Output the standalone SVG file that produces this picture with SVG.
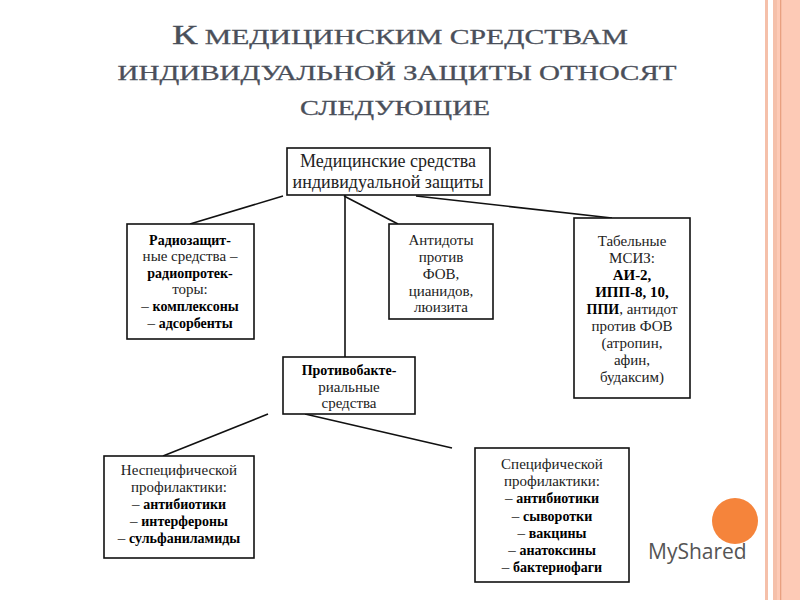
<svg xmlns="http://www.w3.org/2000/svg" width="800" height="600" viewBox="0 0 800 600">
<style>
.t{font-family:"Liberation Serif",serif;font-size:21px;fill:#4a4f5a;text-anchor:middle;stroke:#4a4f5a;stroke-width:0.3}
.n rect{fill:#fff;stroke:#111;stroke-width:1.6}
.n text{font-family:"Liberation Serif","Times New Roman",serif;font-size:15px;fill:#222;text-anchor:middle}
.n .b{font-weight:bold;fill:#000;font-size:14px}
#c line{stroke:#111;stroke-width:1.6}
</style>
<rect width="800" height="600" fill="#fff"/>
<rect x="765" y="0" width="3" height="600" fill="#f5c0aa"/>
<rect x="773" y="0" width="4" height="600" fill="#f5c0aa"/>
<rect x="777" y="0" width="23" height="600" fill="#fdcab6"/>
<rect x="780" y="0" width="1.3" height="600" fill="#e9a080"/>
<g id="title">
<text class="t" x="400" y="44" textLength="456" lengthAdjust="spacingAndGlyphs"><tspan font-size="27">К</tspan> МЕДИЦИНСКИМ СРЕДСТВАМ</text>
<text class="t" x="397" y="80" textLength="559" lengthAdjust="spacingAndGlyphs">ИНДИВИДУАЛЬНОЙ ЗАЩИТЫ ОТНОСЯТ</text>
<text class="t" x="395" y="115" textLength="190" lengthAdjust="spacingAndGlyphs">СЛЕДУЮЩИЕ</text>
</g>
<g id="c">
<line x1="283" y1="196" x2="190" y2="224"/>
<line x1="345" y1="195" x2="345" y2="357"/>
<line x1="344" y1="196" x2="398" y2="224"/>
<line x1="416" y1="196" x2="612" y2="218"/>
<line x1="268" y1="414" x2="163" y2="456"/>
<line x1="305" y1="414" x2="452" y2="448"/>
</g>
<g id="root" class="n"><rect x="287" y="148" width="203" height="47"/>
<text x="388" y="167" style="font-size:18px">Медицинские средства</text>
<text x="388" y="188" style="font-size:18px">индивидуальной защиты</text></g>
<g id="radio" class="n"><rect x="127" y="224" width="127" height="115"/>
<text x="190" y="245" class="b">Радиозащит-</text>
<text x="190" y="261">ные средства –</text>
<text x="190" y="278" class="b">радиопротек-</text>
<text x="190" y="294">торы:</text>
<text x="190" y="311"><tspan>– </tspan><tspan class="b">комплексоны</tspan></text>
<text x="190" y="328"><tspan>– </tspan><tspan class="b">адсорбенты</tspan></text></g>
<g id="antidot" class="n"><rect x="389" y="224" width="104" height="95"/>
<text x="441" y="245">Антидоты</text>
<text x="441" y="262">против</text>
<text x="441" y="279">ФОВ,</text>
<text x="441" y="296">цианидов,</text>
<text x="441" y="312">люизита</text></g>
<g id="tabel" class="n"><rect x="574" y="218" width="116" height="180"/>
<text x="632" y="246">Табельные</text>
<text x="632" y="263">МСИЗ:</text>
<text x="632" y="280" class="b" style="font-size:15px">АИ-2,</text>
<text x="632" y="297" class="b" style="font-size:15px">ИПП-8, 10,</text>
<text x="632" y="314"><tspan class="b">ППИ</tspan>, антидот</text>
<text x="632" y="331">против ФОВ</text>
<text x="632" y="348">(атропин,</text>
<text x="632" y="365">афин,</text>
<text x="632" y="382">будаксим)</text></g>
<g id="antibact" class="n"><rect x="283" y="357" width="132" height="57"/>
<text x="349" y="375" class="b">Противобакте-</text>
<text x="349" y="392">риальные</text>
<text x="349" y="408">средства</text></g>
<g id="nonspec" class="n"><rect x="104" y="456" width="150" height="102"/>
<text x="179" y="475">Неспецифической</text>
<text x="179" y="492">профилактики:</text>
<text x="179" y="509"><tspan>– </tspan><tspan class="b">антибиотики</tspan></text>
<text x="179" y="526"><tspan>– </tspan><tspan class="b">интерфероны</tspan></text>
<text x="179" y="543"><tspan>– </tspan><tspan class="b">сульфаниламиды</tspan></text></g>
<g id="spec" class="n"><rect x="475" y="448" width="154" height="134"/>
<text x="552" y="469">Специфической</text>
<text x="552" y="486">профилактики:</text>
<text x="552" y="503"><tspan>– </tspan><tspan class="b">антибиотики</tspan></text>
<text x="552" y="521"><tspan>– </tspan><tspan class="b">сыворотки</tspan></text>
<text x="552" y="538"><tspan>– </tspan><tspan class="b">вакцины</tspan></text>
<text x="552" y="555"><tspan>– </tspan><tspan class="b">анатоксины</tspan></text>
<text x="552" y="572"><tspan>– </tspan><tspan class="b">бактериофаги</tspan></text></g>
<circle cx="735" cy="521" r="23" fill="#f5843b"/>
<text x="648" y="559" font-family="Open Sans,sans-serif" font-size="21" fill="#555">MyShared</text>
</svg>
